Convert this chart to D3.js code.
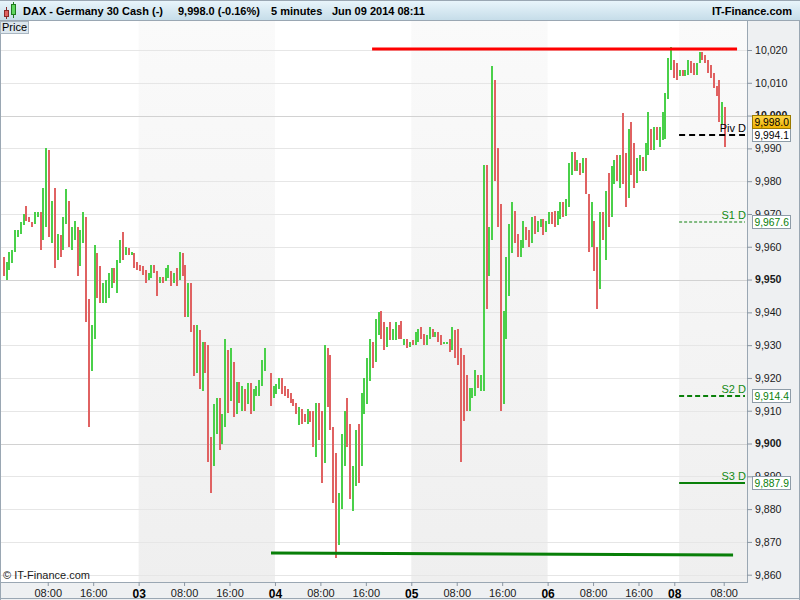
<!DOCTYPE html>
<html><head><meta charset="utf-8">
<script src="https://cdn.jsdelivr.net/npm/d3@7"></script>
<style>
html,body{margin:0;padding:0;background:#fff;}
svg{display:block;font-family:"Liberation Sans",Arial,sans-serif;}
</style></head>
<body>
<svg id="chart" width="800" height="600"></svg>
<script>
// ---- DATA (30-minute bars: [open, high, low, close]) ----
const candles = [
[9956,9957,9951,9952],[9950.5,9955.5,9950,9954],[9953,9958.5,9953,9957],[9956,9959,9955,9958],
[9959,9965,9958.5,9964],[9964,9965,9963,9964.5],[9964.5,9967.5,9964,9967],[9967,9970,9966.5,9969],
[9972,9972.5,9968,9969],[9968.5,9969,9967.5,9968],[9967,9967.5,9966,9966.5],[9967,9970.5,9967,9970],
[9970,9970.5,9969,9970],[9970,9970.5,9959,9963],[9963,9978,9962,9976],[9975,9990,9966,9985],
[9985,9989.5,9963,9966],[9964,9974,9961,9972],[9972,9978,9953.5,9957],[9957,9964,9956,9962],
[9962,9963.5,9957,9959],[9959.5,9969,9959,9967],[9967,9977.5,9967,9973],[9973,9974,9960,9962],
[9962,9966,9959,9964],[9963,9968,9962,9966],[9965,9966,9951,9955],[9955,9965,9954,9963],
[9962,9970.5,9961,9968],[9968,9969,9937,9940],[9942,9944,9905,9925],[9925,9936,9922,9933],
[9933,9960.5,9932,9950],[9952,9958,9944.5,9947],[9948,9954,9943,9945],[9945,9949,9943,9946],
[9944,9950,9943,9948],[9946,9952,9944.5,9950],[9950,9953.5,9947.5,9952],[9951,9953.5,9949,9950],
[9947,9956,9946,9954],[9955,9962,9955,9960],[9962,9964.5,9956,9958],[9958,9960,9957.5,9959],
[9959,9959.5,9957.5,9958],[9958,9958.5,9957.5,9958],[9957,9958,9953.5,9954],[9954,9955.3,9953,9953.5],
[9953.5,9954.5,9952.5,9953],[9953,9954,9951.5,9952],[9952,9953,9949,9950],[9950,9952,9950,9951],
[9951,9954.5,9950.5,9953.5],[9953.5,9954.5,9952,9952.5],[9952,9952.5,9945,9949],[9949,9950.8,9949,9950],
[9950,9950.8,9949,9949.5],[9950,9953.5,9949.5,9952],[9951,9954.5,9950.5,9953],[9952,9952.5,9948,9949],
[9949,9952,9949,9951],[9951,9953.5,9948,9949],[9950,9958.5,9950,9957],[9957,9958,9951,9953],
[9953,9954.5,9938.5,9941],[9939,9949,9938.5,9946],[9946,9949,9934,9936],[9934,9936,9920.5,9929],
[9926,9936,9921.5,9933],[9932,9934.5,9916.5,9922],[9922,9931,9916,9928],[9928,9931,9921.5,9924],
[9926,9930,9894.5,9900],[9900,9902,9885,9897],[9896,9912,9893,9908],[9907,9914,9903,9912],
[9912,9914,9898,9904],[9904,9909,9900,9906],[9906,9932,9905,9925],[9928,9928.5,9909.3,9914],
[9914,9929,9913,9926],[9925,9925,9908,9912],[9912,9918.7,9909,9915],[9915,9918.7,9912.5,9914],
[9914,9917.5,9910,9916],[9916,9916.5,9910,9912],[9912,9918.5,9912,9917],[9917,9918.5,9909,9911],
[9911,9916.5,9910,9915],[9915,9917.5,9914.5,9916],[9916,9919.5,9914.5,9918],[9918,9925.5,9917.5,9923],
[9923,9929,9922,9927],null,[9921,9921.5,9911.5,9914],[9914,9917.5,9914,9916],
[9916,9918,9915,9917],[9917,9920,9916.5,9919],[9919,9920,9915,9916],[9916,9917.5,9914.5,9915],
[9915,9916.5,9914,9914.5],[9915,9915.5,9912.5,9913],[9913,9913.5,9911.5,9912],[9912,9912.5,9909,9910],
[9907,9911,9905.5,9910],[9910,9910.5,9906,9907],[9909,9909,9906.5,9907],[9906.5,9910.5,9906,9910],
[9910,9910,9906.5,9907],[9909,9910,9899,9903],[9902,9912.5,9896,9908],[9908,9912.5,9901,9905],
[9906,9910,9888,9895],[9895,9930,9894,9925],[9925,9929,9911,9916],[9918,9927,9904,9908],
[9904,9905,9882,9888],[9888,9897,9865,9870],[9870,9885,9869,9882],[9882,9903,9880,9900],
[9900,9910,9893,9907],[9909,9914,9899,9902],[9902,9906,9883,9888],[9888,9893,9879.5,9890],
[9890,9904,9887,9900],[9900,9906,9888,9895],[9895,9915.5,9893,9912],[9912,9920,9909,9915],
[9916,9926,9912,9922],[9922,9932,9919,9928],[9928,9931,9923,9926],[9926,9938,9925,9935],
[9935,9940,9933,9937],[9938,9940.5,9932,9934],[9934,9937,9928.5,9930],[9930,9935.5,9929.5,9934],
[9935,9937,9931.5,9932],[9932,9935,9931.5,9934],[9933,9937,9931.5,9935],[9935,9936,9932,9933],
[9936,9937.5,9932,9932.5],[9931,9932,9930,9931.5],[9931,9932,9929,9930],[9930,9931,9929.5,9930.5],
[9931,9931.5,9930,9930.5],[9931,9934,9930,9932],[9932,9935,9931,9934],[9934,9935.5,9932,9933],
[9933,9933.5,9930,9931],[9931,9933,9930,9932],[9932,9935.5,9932,9935],[9934,9935,9932.5,9933],
[9933,9934,9932.5,9933.5],[9933,9934,9931,9932],[9932,9933,9930,9930.5],[9931,9931,9930.5,9931],
[9931,9931,9930.5,9931],[9932,9932,9928,9929],[9929,9935.5,9928.5,9934],[9934,9934.5,9926,9928],
[9930,9935,9924,9926],[9926,9929,9894.5,9918],[9918,9927,9907,9914],[9916,9921,9910,9912],
[9911,9917,9910,9915],[9915,9917,9914,9915.5],[9915,9922.5,9914.5,9920],[9920,9921,9917,9918],
[9918,9921,9916,9920],[9918,9985,9916,9960],[9962,9985,9941,9950],[9952,9966,9951,9964],
[9964,10015,9962,10008],[10008,10011,9980,9985],[9985,9990,9966,9970],[9970,9973,9910,9915],
[9915,9940.5,9912,9935],[9935,9957,9932,9952],[9952,9967,9945,9962],[9960,9973.5,9958,9970],
[9970,9971,9961,9963],[9963,9964,9957,9960],[9959,9962,9956.9,9961],[9960,9968,9959.5,9966],
[9966,9966,9962,9963],[9963,9965,9960,9961],[9961,9969,9961,9967],[9967,9969.5,9964,9965],
[9965,9968,9964.5,9967],[9967,9968.5,9966,9967.5],[9968,9968.5,9963.5,9964.5],[9965,9968,9964.5,9967],
[9967,9970.5,9967,9969],[9969,9970.5,9967,9968],[9969,9971,9966,9967],[9967,9971,9966.5,9970],
[9969,9973.5,9968.5,9972],[9972,9973.5,9969,9970],[9970,9974.5,9969.5,9973],[9973,9985.5,9972,9983],
[9983,9989,9982,9987],[9988,9989,9983,9984],[9984,9986.5,9983,9985],[9985,9985.5,9982,9983],
[9983,9987,9982.5,9986],[9986,9987,9976,9978],[9975,9976,9958.5,9962],[9962,9973.5,9960,9968],
[9968,9968,9952.5,9956],[9956,9960,9941,9945],[9948,9970.5,9947,9965],[9965,9970.5,9962,9964],
[9960,9977,9956,9972],[9972,9982.5,9966,9970],[9970,9984.5,9969,9981],[9981,9986.5,9979,9984],
[9984,9988,9980,9982],[9982,9988,9978,9986],[9986,10000.8,9979,9983],[9985,9988.5,9972,9975],
[9976,9996,9975,9990],[9990,9998,9982,9986],[9986,9991.5,9978,9982],[9982,9987,9979.5,9985],
[9985,9988,9983,9986],[9986,9987.5,9983,9984],[9984,9991.5,9983,9990],[9989,10001,9988,9996],
[9996,9996,9989.5,9991],[9991,9996.5,9989.5,9995],[9995,9996.5,9992.5,9994],[9994,9996.5,9990.5,9995],
[9994,10001,9992.5,9999],[9998,10007,9993,10006],[10006,10017.5,10005,10015],[10015,10021,10014,10017],
[10016,10017,10011.5,10013],[10013,10016,10011,10012],[10012,10014,10012,10013],[10013,10014,10012,10012.5],
[10012.5,10014,10012,10013.5],[10013,10017,10012.5,10015],[10015,10016.5,10013,10014],[10014,10016,10012.5,10013],
[10013,10016,10012.5,10015],[10016,10019.5,10016,10019],[10019,10019.5,10017,10018],[10018,10018.5,10016,10017],
[10017,10017,10013,10014],[10014,10015.5,10011.5,10012.5],[10013,10013,10008.5,10009],[10009,10009,10006,10006.5],
[10006,10011,9998,10000],[10000,10004,9997.5,10000],[10000,10002.5,9990.5,9998]
];

// y-axis tick values
const yTicks = [9860,9870,9880,9890,9900,9910,9920,9930,9940,9950,9960,9970,9980,9990,10000,10010,10020];
// x-axis ticks: bar index and label
const xTickBars   = [16,32,48,64,80,96,112,128,144,160,176,192,208,224,236.6,254];
const xTickLabels = ["08:00","16:00","03","08:00","16:00","04","08:00","16:00","05","08:00","16:00","06","08:00","16:00","08","08:00"];
const xTickIsDay  = [false,false,true,false,false,true,false,false,true,false,false,true,false,false,true,false];
// alternate shaded days (bar index ranges)
const shadedFrom = [48,144,238.3];
const shadedTo   = [96,192,262.2];
// daily pivot levels
const levelNames  = ["Piv D","S1 D","S2 D","S3 D"];
const levelValues = [9994.1,9967.6,9914.4,9887.9];
const levelFrom = 238.3;
// drawn lines
const resistanceBars = [130.2,258.7];
const resistanceVals = [10020.3,10020.3];
const supportBars = [94.6,257.3];
const supportVals = [9866.6,9866.0];
const lastPrice = 9998.0;

// ---- LAYOUT ----
const svg = d3.select("#chart");
const W = 800, H = 600;
const plotL = 0, plotR = 747, plotT = 20, plotB = 582;
const x = d3.scaleLinear().domain([-0.81, 262.2]).range([plotL, plotR]);
const y = d3.scaleLinear().domain([9860, 10020]).range([574.7, 50]);
const fmt = d3.format(",.1f");

const defs = svg.append("defs");
const hg = defs.append("linearGradient").attr("id","hdr").attr("x1",0).attr("y1",0).attr("x2",0).attr("y2",1);
hg.append("stop").attr("offset","0%").attr("stop-color","#eaf6fc");
hg.append("stop").attr("offset","100%").attr("stop-color","#c6dde9");
const sg = defs.append("linearGradient").attr("id","shade").attr("x1",0).attr("y1",0).attr("x2",0).attr("y2",1);
sg.append("stop").attr("offset","0%").attr("stop-color","#fafafa");
sg.append("stop").attr("offset","100%").attr("stop-color","#efefef");
const gg = defs.append("linearGradient").attr("id","gold").attr("x1",0).attr("y1",0).attr("x2",0).attr("y2",1);
gg.append("stop").attr("offset","0%").attr("stop-color","#ffd84a");
gg.append("stop").attr("offset","100%").attr("stop-color","#eeb000");

svg.append("rect").attr("width",W).attr("height",H).attr("fill","#ffffff");
// side panels
svg.append("rect").attr("x",plotR).attr("y",plotT).attr("width",W-plotR).attr("height",H-plotT).attr("fill","#eef0f2");
svg.append("rect").attr("x",0).attr("y",plotB).attr("width",W).attr("height",H-plotB).attr("fill","#eef0f2");

// shaded days
svg.append("g").selectAll("rect").data(shadedFrom).join("rect")
  .attr("x",(d)=>x(d)).attr("y",plotT+1)
  .attr("width",(d,i)=>x(shadedTo[i])-x(d)).attr("height",plotB-plotT-1)
  .attr("fill","url(#shade)");

// grid
svg.append("g").selectAll("line").data(yTicks).join("line")
  .attr("x1",plotL).attr("x2",plotR)
  .attr("y1",d=>Math.round(y(d))+0.5).attr("y2",d=>Math.round(y(d))+0.5)
  .attr("stroke",d=>d%50===0?"#d2d2d2":"#e6e6e6").attr("stroke-width",1);

// candles
const cg = svg.append("g").attr("shape-rendering","crispEdges");
const bars = candles.map((c,i)=>c?{i,o:c[0],h:c[1],l:c[2],c:c[3]}:null).filter(Boolean);
const up = "#4ad04a", dn = "#e06262";
cg.selectAll("rect.w").data(bars).join("rect").attr("class","w")
  .attr("x",d=>Math.round(x(d.i+0.5))-1).attr("width",2)
  .attr("y",d=>Math.round(y(Math.max(d.h,d.o,d.c))))
  .attr("height",d=>Math.max(2,Math.round(y(Math.min(d.l,d.o,d.c)))-Math.round(y(Math.max(d.h,d.o,d.c)))))
  .attr("fill",d=>d.c>=d.o?up:dn);

// resistance & support lines
const line = d3.line().x(d=>x(d[0])).y(d=>y(d[1]));
svg.append("path").attr("d",line(resistanceBars.map((b,i)=>[b,resistanceVals[i]])))
  .attr("stroke","#ff0000").attr("stroke-width",3).attr("fill","none");
svg.append("path").attr("d",line(supportBars.map((b,i)=>[b,supportVals[i]])))
  .attr("stroke","#087f08").attr("stroke-width",3).attr("fill","none");

// pivot levels
const lvlStyle = [
  {c:"#000000",w:2,dash:"6,4"},
  {c:"#0f800f",w:1,dash:"3,2"},
  {c:"#0a800a",w:2,dash:"5,3"},
  {c:"#0a800a",w:2,dash:null}
];
const lg = svg.append("g");
levelValues.forEach((v,i)=>{
  const yy = Math.round(y(v));
  const ln = lg.append("line").attr("x1",x(levelFrom)).attr("x2",plotR-2)
    .attr("y1",yy).attr("y2",yy)
    .attr("stroke",lvlStyle[i].c).attr("stroke-width",lvlStyle[i].w);
  if(lvlStyle[i].dash) ln.attr("stroke-dasharray",lvlStyle[i].dash);
  lg.append("text").attr("x",plotR-1).attr("y",yy-3).attr("text-anchor","end")
    .attr("font-size","11px").attr("fill",i===0?"#000":"#138a13").text(levelNames[i]);
});

// frame lines
svg.append("line").attr("x1",plotR+0.5).attr("x2",plotR+0.5).attr("y1",plotT).attr("y2",plotB+1).attr("stroke","#9aa7b3");
svg.append("line").attr("x1",0).attr("x2",plotR+1).attr("y1",plotB+0.5).attr("y2",plotB+0.5).attr("stroke","#9aa7b3");
svg.append("line").attr("x1",0.5).attr("x2",0.5).attr("y1",plotT).attr("y2",H).attr("stroke","#9aa7b3");
svg.append("line").attr("x1",0).attr("x2",W).attr("y1",H-1.5).attr("y2",H-1.5).attr("stroke","#9aa7b3");
svg.append("line").attr("x1",W-0.5).attr("x2",W-0.5).attr("y1",0).attr("y2",H).attr("stroke","#9aa7b3");

// y axis
const ya = svg.append("g").attr("transform",`translate(${plotR},0)`)
  .call(d3.axisRight(y).tickValues(yTicks).tickSize(5).tickPadding(3).tickFormat(d3.format(",")));
ya.select(".domain").remove();
ya.selectAll(".tick line").attr("stroke","#8a96a2");
ya.selectAll(".tick text").attr("font-family","Liberation Sans, Arial, sans-serif")
  .attr("font-size","10.6px").attr("fill","#1a1a1a")
  .attr("font-weight",d=>d%50===0?"bold":"normal");

// x axis
const xa = svg.append("g").attr("transform",`translate(0,${plotB})`)
  .call(d3.axisBottom(x).tickValues(xTickBars).tickSize(4).tickPadding(3).tickFormat((d,i)=>xTickLabels[i]));
xa.select(".domain").remove();
xa.selectAll(".tick line").attr("stroke","#8a96a2");
xa.selectAll(".tick text").attr("font-family","Liberation Sans, Arial, sans-serif")
  .attr("font-size",(d,i)=>xTickIsDay[i]?"12px":"11px")
  .attr("font-weight",(d,i)=>xTickIsDay[i]?"bold":"normal")
  .attr("fill",(d,i)=>xTickIsDay[i]?"#000":"#1a1a1a");

// value boxes
function box(v, fill, stroke, color){
  const yy = Math.round(y(v));
  svg.append("rect").attr("x",752.5).attr("y",yy-6.5).attr("width",38).attr("height",13)
    .attr("fill",fill).attr("stroke",stroke);
  svg.append("text").attr("x",754.5).attr("y",yy+4).attr("font-size","10.3px").attr("fill",color).text(fmt(v));
}
box(levelValues[0],"#ffffff","#8e9ca8","#000");
box(levelValues[1],"#ffffff","#8e9ca8","#0a800a");
box(levelValues[2],"#ffffff","#8e9ca8","#0a800a");
box(levelValues[3],"#ffffff","#8e9ca8","#0a800a");
box(lastPrice,"url(#gold)","#9a7a00","#000");

// header
svg.append("rect").attr("x",0).attr("y",0).attr("width",W).attr("height",20).attr("fill","url(#hdr)");
svg.append("line").attr("x1",0).attr("x2",W).attr("y1",0.5).attr("y2",0.5).attr("stroke","#9aa7b3");
svg.append("line").attr("x1",0).attr("x2",W).attr("y1",20.5).attr("y2",20.5).attr("stroke","#9aa7b3");
const ic = svg.append("g");
ic.append("line").attr("x1",6.5).attr("x2",6.5).attr("y1",7).attr("y2",19).attr("stroke","#8a2a2a");
ic.append("rect").attr("x",4.5).attr("y",10.5).attr("width",4).attr("height",6).attr("fill","#e06262").attr("stroke","#8a2a2a");
ic.append("line").attr("x1",13.5).attr("x2",13.5).attr("y1",2).attr("y2",18).attr("stroke","#1f7a1f");
ic.append("rect").attr("x",11.5).attr("y",4.5).attr("width",4).attr("height",10).attr("fill","#5fd65f").attr("stroke","#1f7a1f");
const ht = svg.append("g").attr("font-size","11px").attr("font-weight","bold").attr("fill","#000");
ht.append("text").attr("x",23).attr("y",15).text("DAX - Germany 30 Cash (-)");
ht.append("text").attr("x",178).attr("y",15).text("9,998.0 (-0.16%)");
ht.append("text").attr("x",271).attr("y",15).text("5 minutes");
ht.append("text").attr("x",332).attr("y",15).text("Jun 09 2014 08:11");
ht.append("text").attr("x",792).attr("y",15).attr("text-anchor","end").text("IT-Finance.com");

// Price tag
svg.append("rect").attr("x",0.5).attr("y",21.5).attr("width",28).attr("height",12).attr("fill","#dde7ee").attr("stroke","#a9b6c1");
svg.append("text").attr("x",2).attr("y",31).attr("font-size","11px").attr("fill","#000").text("Price");

// footer
svg.append("text").attr("x",3).attr("y",579).attr("font-size","11px").attr("fill","#1a1a1a").text("\u00A9 IT-Finance.com");
</script>
</body></html>
